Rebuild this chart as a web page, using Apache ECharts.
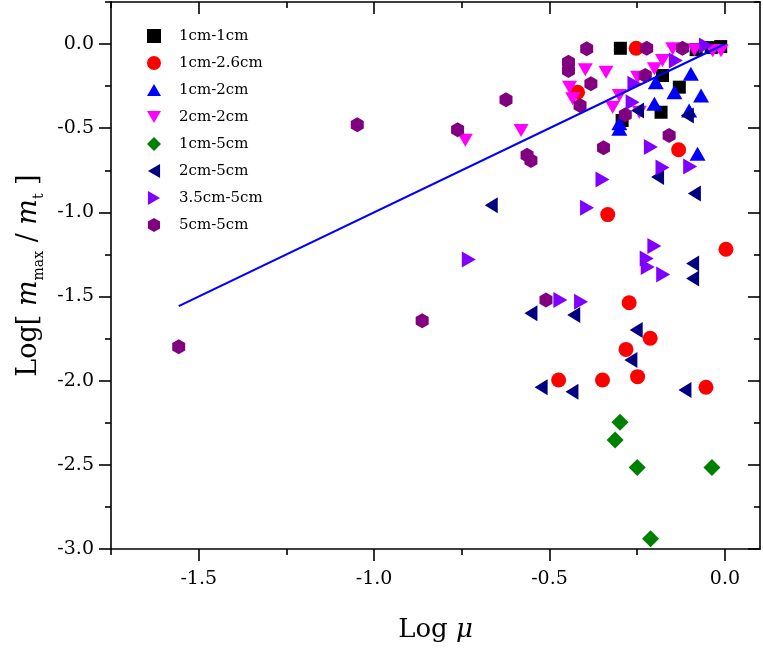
<!DOCTYPE html>
<html>
<head>
<meta charset="utf-8">
<script src="https://cdn.jsdelivr.net/npm/echarts@6/dist/echarts.min.js"></script>
<style>
  html, body { margin: 0; padding: 0; background: #fff; }
  #chart { width: 763px; height: 654px; }
</style>
</head>
<body>
<div id="chart"></div>
<script>
// data: [log mu, log(mmax/mt)]
const sq1cm1cm = [[-0.298, -0.025], [-0.082, -0.033], [-0.039, -0.021], [-0.012, -0.015], [-0.178, -0.187],
  [-0.130, -0.256], [-0.182, -0.405], [-0.293, -0.454]]
const circ1cm26cm = [[-0.253, -0.025], [-0.420, -0.286], [-0.132, -0.628], [-0.334, -1.013], [0.003, -1.219],
  [-0.273, -1.537], [-0.213, -1.748], [-0.282, -1.814], [-0.474, -1.996], [-0.349, -1.996],
  [-0.249, -1.976], [-0.054, -2.039]]
const up1cm2cm = [[-0.097, -0.177], [-0.197, -0.227], [-0.144, -0.286], [-0.068, -0.305], [-0.201, -0.355],
  [-0.102, -0.394], [-0.301, -0.471], [-0.301, -0.503], [-0.078, -0.651]]
const down2cm2cm = [[-0.149, -0.028], [-0.087, -0.034], [-0.035, -0.039], [-0.011, -0.039], [-0.178, -0.098],
  [-0.201, -0.147], [-0.398, -0.153], [-0.339, -0.167], [-0.249, -0.197], [-0.443, -0.256],
  [-0.434, -0.325], [-0.301, -0.305], [-0.320, -0.375], [-0.244, -0.405], [-0.581, -0.513],
  [-0.740, -0.572]]
const dia1cm5cm = [[-0.299, -2.247], [-0.313, -2.352], [-0.250, -2.516], [-0.037, -2.516], [-0.212, -2.939]]
const left2cm5cm = [[-0.249, -0.394], [-0.107, -0.424], [-0.192, -0.790], [-0.087, -0.888], [-0.092, -1.304],
  [-0.092, -1.393], [-0.666, -0.958], [-0.553, -1.600], [-0.431, -1.610], [-0.253, -1.699],
  [-0.268, -1.877], [-0.524, -2.039], [-0.436, -2.065], [-0.114, -2.055]]
const right35cm5cm = [[-0.054, -0.009], [-0.140, -0.098], [-0.258, -0.236], [-0.263, -0.345], [-0.211, -0.612],
  [-0.178, -0.734], [-0.099, -0.727], [-0.349, -0.805], [-0.393, -0.972], [-0.201, -1.199],
  [-0.223, -1.274], [-0.220, -1.324], [-0.176, -1.369], [-0.730, -1.280], [-0.469, -1.521],
  [-0.410, -1.531]]
const hex5cm5cm = [[-0.394, -0.028], [-0.223, -0.025], [-0.121, -0.025], [-0.446, -0.108], [-0.446, -0.157],
  [-0.382, -0.236], [-0.227, -0.187], [-0.413, -0.365], [-0.284, -0.420], [-0.159, -0.543],
  [-0.346, -0.616], [-0.624, -0.331], [-1.048, -0.479], [-0.762, -0.509], [-0.564, -0.661],
  [-0.553, -0.691], [-0.863, -1.644], [-1.557, -1.798], [-0.510, -1.521]]

const lineX = [-1.557, 0]
const lineY = [-1.557, 0]

const xMajor = [-1.5, -1.0, -0.5, 0.0]
const xMinor = [-1.75, -1.25, -0.75, -0.25]
const yMajor = [-3.0, -2.5, -2.0, -1.5, -1.0, -0.5, 0.0]
const yMinor = [-2.75, -2.25, -1.75, -1.25, -0.75, -0.25, 0.25]

const FONT = 'DejaVu Serif'

const groups = [
  { name: '1cm-1cm', data: sq1cm1cm, color: '#000000', symbol: 'rect', size: [13, 13] },
  { name: '1cm-2.6cm', data: circ1cm26cm, color: '#FF0000', symbol: 'circle', size: 15 },
  { name: '1cm-2cm', data: up1cm2cm, color: '#0000FF', symbol: 'path://M1,0 L2,1.732 L0,1.732 Z', size: [16, 14] },
  { name: '2cm-2cm', data: down2cm2cm, color: '#FF00FF', symbol: 'path://M0,0 L2,0 L1,1.732 Z', size: [15, 13] },
  { name: '1cm-5cm', data: dia1cm5cm, color: '#008000', symbol: 'diamond', size: [17, 17] },
  { name: '2cm-5cm', data: left2cm5cm, color: '#000080', symbol: 'path://M0,1 L1.732,0 L1.732,2 Z', size: [13, 16] },
  { name: '3.5cm-5cm', data: right35cm5cm, color: '#8000FF', symbol: 'path://M0,0 L1.732,1 L0,2 Z', size: [14, 16] },
  { name: '5cm-5cm', data: hex5cm5cm, color: '#800080',
    symbol: 'path://M0,-10 L8.66,-5 L8.66,5 L0,10 L-8.66,5 L-8.66,-5 Z', size: [13, 15] },
]

const lineStyle = { color: '#000', width: 1.6 }

function tickAxis(position, min, max, ticks, len, inside, showLine) {
  return {
    type: 'value', position, min, max,
    axisLine: { show: showLine, onZero: false, lineStyle },
    axisTick: { show: true, customValues: ticks, length: len, inside, lineStyle },
    axisLabel: { show: false },
    splitLine: { show: false },
  }
}

const chart = echarts.init(document.getElementById('chart'))

chart.setOption({
  animation: false,
  backgroundColor: '#fff',
  grid: { left: 111, right: 3, top: 2, bottom: 105, containLabel: false },
  legend: {
    orient: 'vertical',
    left: 142,
    top: 22,
    itemWidth: 14,
    itemHeight: 14,
    itemGap: 9,
    data: groups.map((g) => g.name),
    textStyle: { fontFamily: FONT, fontSize: 15, color: '#000', padding: [0, 0, 0, 13], lineHeight: 18 },
  },
  xAxis: [
    {
      type: 'value', position: 'bottom', min: -1.75, max: 0.1,
      axisLine: { show: true, onZero: false, lineStyle },
      axisTick: { show: true, customValues: xMajor, length: 12, inside: false, lineStyle },
      axisLabel: {
        customValues: xMajor, formatter: (v) => v.toFixed(1), margin: 21,
        fontFamily: FONT, fontSize: 19, color: '#000',
      },
      splitLine: { show: false },
      name: '{a|Log }{b|μ}',
      nameLocation: 'middle',
      nameGap: 68,
      nameTextStyle: {
        rich: {
          a: { fontFamily: FONT, fontSize: 26, color: '#000' },
          b: { fontFamily: FONT, fontSize: 26, color: '#000', fontStyle: 'italic' },
        },
      },
    },
    tickAxis('bottom', -1.75, 0.1, xMinor, 6, false, false),
    tickAxis('top', -1.75, 0.1, xMajor, 12, true, true),
    tickAxis('top', -1.75, 0.1, xMinor, 6, true, false),
  ],
  yAxis: [
    {
      type: 'value', position: 'left', min: -3, max: 0.25,
      axisLine: { show: true, onZero: false, lineStyle },
      axisTick: { show: true, customValues: yMajor, length: 12, inside: false, lineStyle },
      axisLabel: {
        customValues: yMajor, formatter: (v) => v.toFixed(1), margin: 17,
        fontFamily: FONT, fontSize: 19, color: '#000',
      },
      splitLine: { show: false },
      name: '{n|Log[ }{i|m}{s|max}{n| / }{i|m}{s|t}{n| ]}',
      nameLocation: 'middle',
      nameGap: 64,
      nameTextStyle: {
        rich: {
          n: { fontFamily: FONT, fontSize: 27, color: '#000', lineHeight: 34, verticalAlign: 'middle' },
          i: { fontFamily: FONT, fontSize: 27, color: '#000', fontStyle: 'italic', lineHeight: 34, verticalAlign: 'middle' },
          s: { fontFamily: FONT, fontSize: 14, color: '#000', lineHeight: 14, verticalAlign: 'bottom' },
        },
      },
    },
    tickAxis('left', -3, 0.25, yMinor, 6, false, false),
    tickAxis('right', -3, 0.25, yMajor, 12, true, true),
    tickAxis('right', -3, 0.25, yMinor, 6, true, false),
  ],
  series: [
    ...groups.map((g) => ({
      name: g.name,
      type: 'scatter',
      data: g.data,
      symbol: g.symbol,
      symbolSize: g.size,
      itemStyle: { color: g.color, opacity: 1 },
      emphasis: { disabled: true },
    })),
    {
      name: 'fit',
      type: 'line',
      data: lineX.map((x, i) => [x, lineY[i]]),
      symbol: 'none',
      lineStyle: { color: '#0000FF', width: 2.2 },
      z: 5,
    },
  ],
})
</script>
</body>
</html>
